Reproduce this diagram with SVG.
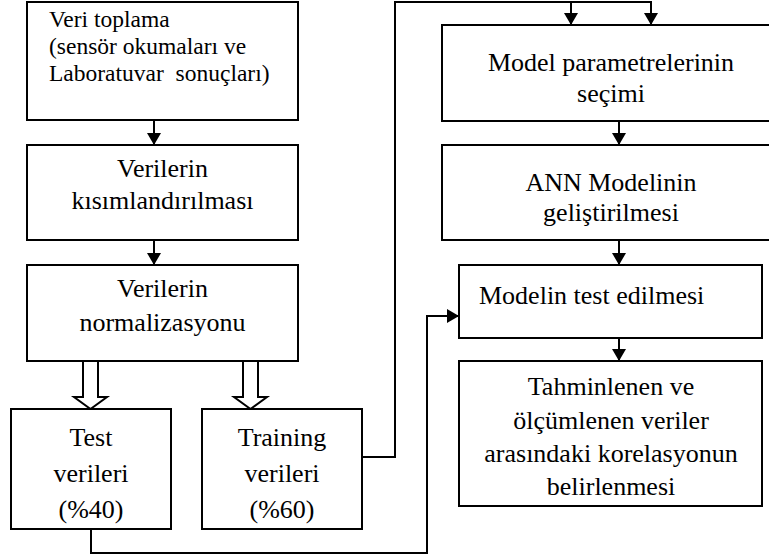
<svg xmlns="http://www.w3.org/2000/svg" width="769" height="557" viewBox="0 0 769 557">
<style>
.box{fill:#fff;stroke:#000;stroke-width:2}
text{font-family:'Liberation Serif','Times New Roman',serif;fill:#000}
.t{font-size:26px;text-anchor:middle}
.t1{font-size:23.5px}
.c{fill:none;stroke:#000;stroke-width:2}
.hollow{fill:#fff;stroke:#000;stroke-width:2;stroke-linejoin:miter}
</style>
<defs>
<marker id="ah" viewBox="0 0 12 14" refX="12" refY="7" markerWidth="12" markerHeight="14" markerUnits="userSpaceOnUse" orient="auto">
<path d="M0,0 L12,7 L0,14 z" fill="#000"/>
</marker>
</defs>
<rect width="769" height="557" fill="#fff"/>
<g id="connectors">
<line class="c" x1="154" y1="120" x2="154" y2="145" marker-end="url(#ah)"/>
<line class="c" x1="154" y1="240" x2="154" y2="265" marker-end="url(#ah)"/>
<polygon class="hollow" points="83,361 83,397 74,397 90.5,409 107,397 98,397 98,361"/>
<polygon class="hollow" points="243,361 243,397 234,397 250.5,409 267,397 258,397 258,361"/>
<path class="c" d="M362,457 H395 V2 H651 V25" marker-end="url(#ah)"/>
<path class="c" d="M571,2 V25" marker-end="url(#ah)"/>
<line class="c" x1="619" y1="121" x2="619" y2="145" marker-end="url(#ah)"/>
<line class="c" x1="619" y1="240" x2="619" y2="265" marker-end="url(#ah)"/>
<line class="c" x1="619" y1="338" x2="619" y2="361" marker-end="url(#ah)"/>
<path class="c" d="M91,529 V553 H427 V316 H459" marker-end="url(#ah)"/>
</g>
<g id="n1">
<rect class="box" x="27" y="2" width="271" height="118"/>
<text class="t1" x="49" y="27">Veri toplama</text>
<text class="t1" x="49" y="54">(sensör okumaları ve</text>
<text class="t1" x="49" y="81" xml:space="preserve">Laboratuvar  sonuçları)</text>
</g>
<g id="n2">
<rect class="box" x="27" y="145" width="271" height="95"/>
<text class="t" x="162.5" y="177">Verilerin</text>
<text class="t" x="162.5" y="209">kısımlandırılması</text>
</g>
<g id="n3">
<rect class="box" x="27" y="265" width="271" height="96"/>
<text class="t" x="162.5" y="297">Verilerin</text>
<text class="t" x="162.5" y="331">normalizasyonu</text>
</g>
<g id="n4">
<rect class="box" x="11" y="409" width="160" height="120"/>
<text class="t" x="91" y="446">Test</text>
<text class="t" x="91" y="482">verileri</text>
<text class="t" x="91" y="518">(%40)</text>
</g>
<g id="n5">
<rect class="box" x="202" y="409" width="160" height="120"/>
<text class="t" x="282" y="446">Training</text>
<text class="t" x="282" y="482">verileri</text>
<text class="t" x="282" y="518">(%60)</text>
</g>
<g id="n6">
<rect class="box" x="442" y="25" width="340" height="96"/>
<text class="t" x="611" y="71">Model parametrelerinin</text>
<text class="t" x="611" y="102">seçimi</text>
</g>
<g id="n7">
<rect class="box" x="442" y="145" width="340" height="95"/>
<text class="t" x="611" y="191">ANN Modelinin</text>
<text class="t" x="611" y="221">geliştirilmesi</text>
</g>
<g id="n8">
<rect class="box" x="459" y="265" width="303" height="73"/>
<text class="t" x="479" y="304" style="text-anchor:start">Modelin test edilmesi</text>
</g>
<g id="n9">
<rect class="box" x="459" y="361" width="303" height="145"/>
<text class="t" x="611" y="395">Tahminlenen ve</text>
<text class="t" x="611" y="429">ölçümlenen veriler</text>
<text class="t" x="611" y="462">arasındaki korelasyonun</text>
<text class="t" x="611" y="495">belirlenmesi</text>
</g>
</svg>
